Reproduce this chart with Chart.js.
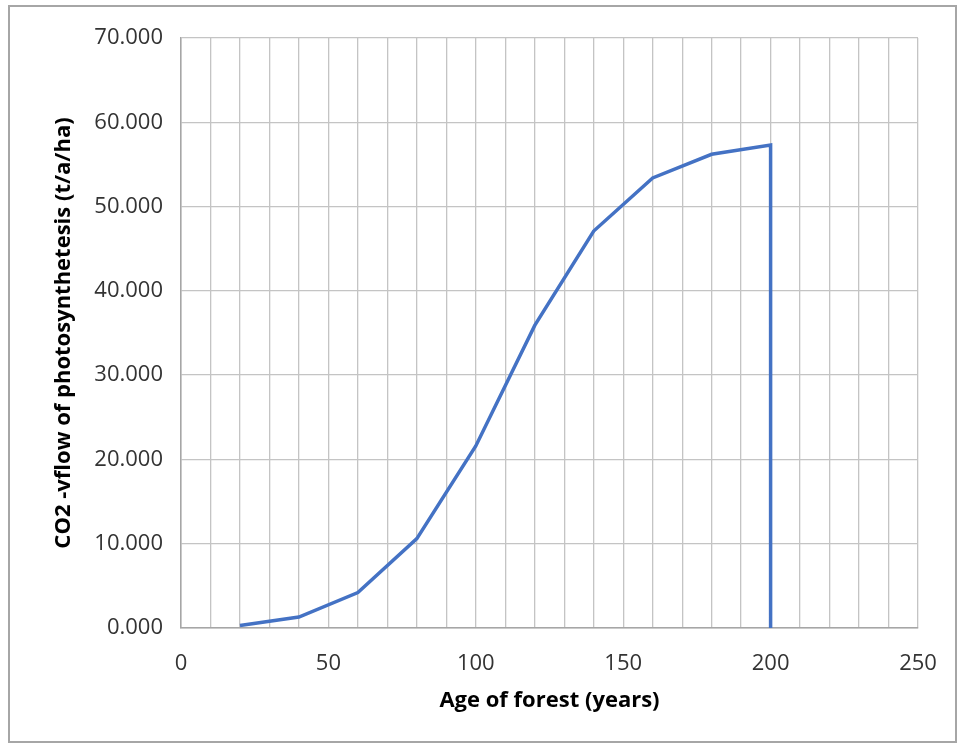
<!DOCTYPE html>
<html>
<head>
<meta charset="utf-8">
<script src="https://cdn.jsdelivr.net/npm/chart.js@4.4.1/dist/chart.umd.min.js"></script>
<style>
    body { margin: 0; background: #fff; }
    #wrap { position: relative; width: 957px; height: 746px; }
    #frame { position: absolute; left: 8px; top: 5px; width: 945px; height: 734px; border: 2px solid #a6a6a6; pointer-events: none; }
</style>
</head>
<body>
<div id="wrap">
    <canvas id="co2-chart" width="957" height="746"></canvas>
    <div id="frame"></div>
</div>
<script>
// 林齢（年）
var ages = [20, 40, 60, 80, 100, 120, 140, 160, 180, 200, 200];
// 光合成によるCO2フロー (t/a/ha)
var co2Flow = [0.3, 1.3, 4.2, 10.6, 21.6, 35.9, 47.1, 53.4, 56.2, 57.3, 0];
// 軸の範囲
var xTicks = [0, 50, 100, 150, 200, 250];
var yTicks = [0, 10, 20, 30, 40, 50, 60, 70];

var points = [];
for (var i = 0; i < ages.length; i++) {
    points.push({ x: ages[i], y: co2Flow[i] });
}

var fontName = "'Open Sans', sans-serif";
var gridColor = '#c4c4c4';

var ctx = document.getElementById('co2-chart').getContext('2d');
new Chart(ctx, {
    type: 'line',
    data: {
        datasets: [{
            data: points,
            borderColor: '#4472c4',
            borderWidth: 3.5,
            pointRadius: 0,
            tension: 0,
            fill: false
        }]
    },
    options: {
        responsive: false,
        animation: false,
        layout: { padding: { left: 47, right: 39, top: 38, bottom: 28 } },
        plugins: { legend: { display: false }, tooltip: { enabled: false } },
        scales: {
            x: {
                type: 'linear',
                min: xTicks[0],
                max: xTicks[xTicks.length - 1],
                ticks: {
                    stepSize: 10,
                    autoSkip: false,
                    maxRotation: 0,
                    padding: 23,
                    color: '#333',
                    font: { family: fontName, size: 22 },
                    callback: function(v) { return xTicks.indexOf(v) >= 0 ? String(v) : ''; }
                },
                grid: { color: gridColor, lineWidth: 1.3, drawTicks: false },
                border: { color: '#a6a6a6', width: 1.5 },
                title: {
                    display: true,
                    text: 'Age of forest (years)',
                    color: '#000',
                    font: { family: fontName, size: 22, weight: 'bold' },
                    padding: { top: 8 }
                },
                afterFit: function(scale) {
                    scale.height = 90;
                    // 右端ラベルの余白は layout.padding に任せる
                    scale.paddingRight = 0;
                }
            },
            y: {
                min: yTicks[0],
                max: yTicks[yTicks.length - 1],
                ticks: {
                    stepSize: 10,
                    padding: 18,
                    color: '#333',
                    font: { family: fontName, size: 22 },
                    callback: function(v) { return v.toFixed(3); }
                },
                grid: { color: gridColor, lineWidth: 1.3, drawTicks: false },
                border: { color: '#a6a6a6', width: 1.5 },
                title: {
                    display: true,
                    text: 'CO2 -vflow of photosynthetesis (t/a/ha)',
                    color: '#000',
                    font: { family: fontName, size: 22, weight: 'bold' },
                    padding: { bottom: 4 }
                },
                afterFit: function(scale) { scale.width = 134; }
            }
        }
    }
});
</script>
</body>
</html>
